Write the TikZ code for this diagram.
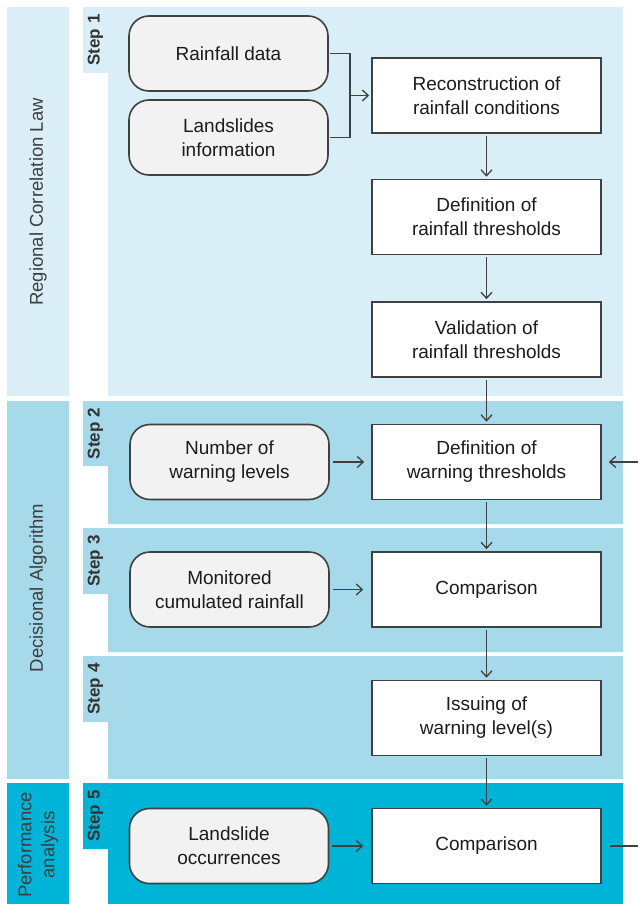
\documentclass[tikz,border=0pt]{standalone}
\usepackage{fontspec}
\setmainfont{Liberation Sans}
\usetikzlibrary{arrows.meta}
\definecolor{bandA}{HTML}{DAEEF7}
\definecolor{bandB}{HTML}{A6D9EA}
\definecolor{bandC}{HTML}{00B4D7}
\definecolor{edgecol}{HTML}{404040}
\definecolor{txt}{HTML}{1C1C1C}
\definecolor{boxfill}{HTML}{F2F2F2}
\begin{document}
\begin{tikzpicture}[x=1pt,y=-1pt,
  proc/.style={draw=edgecol,line width=1.6pt,fill=white,minimum width=229pt,minimum height=75pt,inner sep=0pt,align=center,text=txt,font=\fontsize{19}{24}\selectfont},
  inp/.style={proc,fill=boxfill,rounded corners=20pt,minimum width=199pt},
  conn/.style={draw=edgecol,line width=1.3pt},
  arr/.style={conn,-{Straight Barb[length=6pt,width=11pt]}},
  steplabel/.style={rotate=90,font=\bfseries\fontsize{17}{20}\selectfont,text=txt!90!white},
  bandlabel/.style={rotate=90,font=\fontsize{18.5}{23}\selectfont,text=txt!85!white,align=center}
]
\useasboundingbox (0,0) rectangle (638,904);
\fill[white] (0,0) rectangle (638,904);

% left bands
\fill[bandA] (7,7) rectangle (69,396);
\fill[bandB] (7,401) rectangle (69,779);
\fill[bandC] (7,783) rectangle (69,904);
\node[bandlabel] (lab1) at (38,202) {Regional Correlation Law};
\node[bandlabel] (lab2) at (38,588) {Decisional Algorithm};
\node[bandlabel] (lab3) at (38,845) {Performance\\analysis};

% step regions (tab + body)
\fill[bandA] (83,7) rectangle (108,73) (108,7) rectangle (623,396);
\fill[bandB] (83,401) rectangle (108,466) (108,401) rectangle (623,524);
\fill[bandB] (83,528) rectangle (108,594) (108,528) rectangle (623,652);
\fill[bandB] (83,656) rectangle (108,722) (108,656) rectangle (623,779);
\fill[bandC] (83,783) rectangle (108,849) (108,783) rectangle (623,904);
\node[steplabel] (s1) at (95.5,40) {Step 1};
\node[steplabel] (s2) at (95.5,433.5) {Step 2};
\node[steplabel] (s3) at (95.5,561) {Step 3};
\node[steplabel] (s4) at (95.5,689) {Step 4};
\node[steplabel] (s5) at (95.5,816) {Step 5};

% boxes
\node[inp] (rain) at (228.5,53.5) {Rainfall data};
\node[inp] (land) at (228.5,137.5) {Landslides\\information};
\node[proc] (recon) at (486.5,95.5) {Reconstruction of\\rainfall conditions};
\node[proc] (defr) at (486.5,217) {Definition of\\rainfall thresholds};
\node[proc] (valr) at (486.5,339.5) {Validation of\\rainfall thresholds};
\node[inp] (nwl) at (229.5,462) {Number of\\warning levels};
\node[proc] (defw) at (486.5,462) {Definition of\\warning thresholds};
\node[inp] (mon) at (229.5,589.5) {Monitored\\cumulated rainfall};
\node[proc] (comp3) at (486.5,589.5) {Comparison};
\node[proc] (issue) at (486.5,718) {Issuing of\\warning level(s)};
\node[inp] (lso) at (229,846) {Landslide\\occurrences};
\node[proc] (comp5) at (486.5,846) {Comparison};

% connectors
\coordinate (bj) at (350,95.5);
\draw[conn] ([xshift=1pt]rain.east) -| (bj);
\draw[conn] ([xshift=1pt]land.east) -| (bj);
\draw[arr,shorten >=2pt] (bj) -- (recon.west);
\draw[arr,shorten <=2pt,shorten >=2pt] (recon.south) -- (defr.north);
\draw[arr,shorten <=2pt,shorten >=2pt] (defr.south) -- (valr.north);
\draw[arr,shorten <=2pt,shorten >=2pt] (valr.south) -- (defw.north);
\draw[arr,shorten <=3pt,shorten >=7pt] (nwl.east) -- (defw.west);
\coordinate (rin) at (638,462);
\draw[arr,shorten >=7pt] (rin) -- (defw.east);
\draw[arr,shorten <=2pt,shorten >=2pt] (defw.south) -- (comp3.north);
\draw[arr,shorten <=3pt,shorten >=8pt] (mon.east) -- (comp3.west);
\draw[arr,shorten <=2pt,shorten >=2pt] (comp3.south) -- (issue.north);
\draw[arr,shorten <=2pt,shorten >=2pt] (issue.south) -- (comp5.north);
\draw[arr,shorten <=3pt,shorten >=8pt] (lso.east) -- (comp5.west);
\coordinate (rout) at (638,846);
\draw[conn,shorten <=8pt] (comp5.east) -- (rout);
\end{tikzpicture}
\end{document}
